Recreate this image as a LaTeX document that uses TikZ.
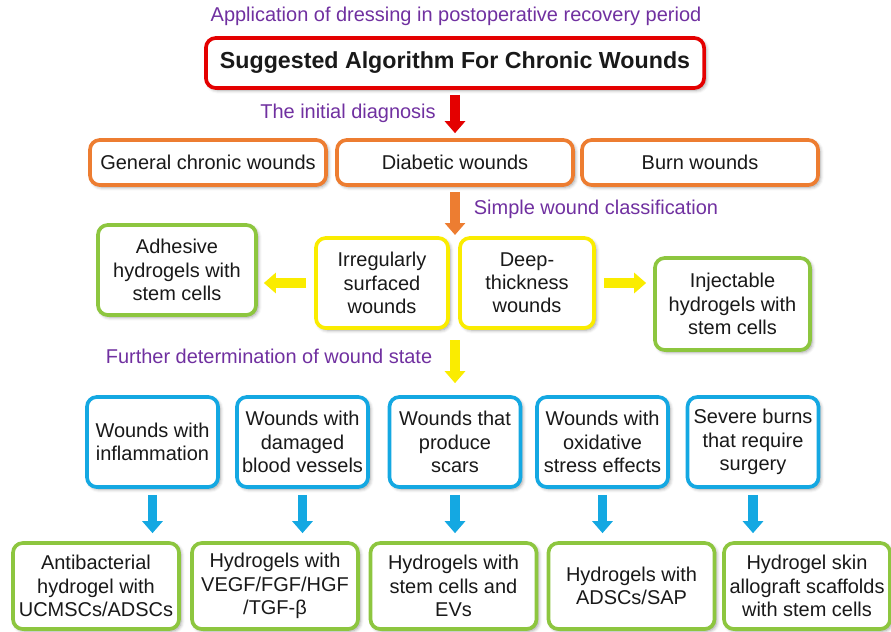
\documentclass[tikz,border=0pt]{standalone}
\usepackage{fontspec}
\setmainfont{Liberation Sans}
\usetikzlibrary{arrows.meta, shadows.blur}

\definecolor{notepurple}{RGB}{112,48,160}
\definecolor{titlered}{RGB}{228,0,0}
\definecolor{typeorange}{RGB}{237,125,49}
\definecolor{classyellow}{RGB}{250,236,0}
\definecolor{stateblue}{RGB}{20,168,226}
\definecolor{therapygreen}{RGB}{141,198,63}

\begin{document}
\begin{tikzpicture}[x=0.025cm, y=-0.025cm, font=\fontsize{14.2}{16.5}\selectfont]

  % Styles
  \tikzset{
    box/.style={draw, rounded corners=7pt, line width=2.6pt, fill=white,
      align=center, inner sep=2pt, text=black!90,
      blur shadow={shadow xshift=1.5pt, shadow yshift=-1.5pt,
        shadow blur radius=2.5pt, shadow opacity=40}},
    titlebox/.style={box, draw=titlered, minimum width=12.45cm,
      minimum height=1.25cm, font=\fontsize{16.5}{19}\selectfont\bfseries},
    typebox/.style={box, draw=typeorange, minimum width=5.9cm, minimum height=1.125cm},
    classbox/.style={box, draw=classyellow, minimum width=3.3cm, minimum height=2.25cm},
    statebox/.style={box, draw=stateblue, minimum width=3.275cm, minimum height=2.25cm},
    therapybox/.style={box, draw=therapygreen, minimum width=4.15cm, minimum height=2.15cm},
    note/.style={text=notepurple},
    flowarrow/.style={-{Triangle[width=0.5cm,length=0.3cm]}, line width=0.24cm, draw=#1}
  }

  \useasboundingbox (0,0) rectangle (891,631);

  %% Title
  \node[note] (app) at (456,16) {Application of dressing in postoperative recovery period};
  \node[titlebox] (title) at (455,63) {Suggested Algorithm For Chronic Wounds};

  %% Row 1: wound types
  \node[typebox] (gen)  at (208,162.5) {General chronic wounds};
  \node[typebox] (dia)  at (455,162.5) {Diabetic wounds};
  \node[typebox] (burn) at (700,162.5) {Burn wounds};

  \draw[flowarrow=titlered, shorten <=0.125cm, shorten >=0.125cm] (title.south) -- (dia.north);
  \node[note] (diag) at (348,113) {The initial diagnosis};

  %% Row 2: classification
  \node[classbox] (irr)  at (382,283) {Irregularly\\surfaced\\wounds};
  \node[classbox, minimum width=3.35cm] (deep) at (527,283) {Deep-\\thickness\\wounds};
  \node[box, draw=therapygreen, minimum width=3.95cm, minimum height=2.25cm]
    (adh) at (177,270) {Adhesive\\hydrogels with\\stem cells};
  \node[box, draw=therapygreen, minimum width=3.875cm, minimum height=2.3cm]
    (inj) at (732.5,304) {Injectable\\hydrogels with\\stem cells};

  \coordinate (split) at (455,238);
  \draw[flowarrow=typeorange, shorten <=0.125cm, shorten >=0.075cm] (dia.south) -- (split);
  \node[note] (simple) at (596,209) {Simple wound classification};

  \draw[flowarrow=classyellow, shorten <=0.2cm, shorten >=0.15cm] (irr.west) -- (irr.west -| adh.east);
  \draw[flowarrow=classyellow, shorten <=0.2cm, shorten >=0.175cm] (deep.east) -- (deep.east -| inj.west);

  %% Row 3: wound state
  \node[statebox] (b1) at (152.5,442) {Wounds with\\inflammation};
  \node[statebox] (b2) at (302.5,442) {Wounds with\\damaged\\blood vessels};
  \node[statebox] (b3) at (455,442)   {Wounds that\\produce\\scars};
  \node[statebox] (b4) at (602.5,442) {Wounds with\\oxidative\\stress effects};
  \node[statebox] (b5) at (753,442)   {Severe burns\\that require\\surgery};

  \coordinate (mid) at (455,328);
  \draw[flowarrow=classyellow, shorten <=0.3cm, shorten >=0.3cm] (mid) -- (b3.north);
  \node[note] (further) at (269,356) {Further determination of wound state};

  %% Row 4: therapies
  \node[therapybox] (g1) at (96,586)    {Antibacterial\\hydrogel with\\UCMSCs/ADSCs};
  \node[therapybox] (g2) at (275,586)   {Hydrogels with\\VEGF/FGF/HGF\\/TGF-β};
  \node[therapybox] (g3) at (453.5,586) {Hydrogels with\\stem cells and\\EVs};
  \node[therapybox] (g4) at (631.5,586) {Hydrogels with\\ADSCs/SAP};
  \node[therapybox] (g5) at (807,586)   {Hydrogel skin\\allograft scaffolds\\with stem cells};

  \foreach \i in {1,...,5}
    \draw[flowarrow=stateblue, shorten <=0.15cm, shorten >=0.2cm] (b\i.south) -- (b\i.south |- g\i.north);

\end{tikzpicture}
\end{document}
